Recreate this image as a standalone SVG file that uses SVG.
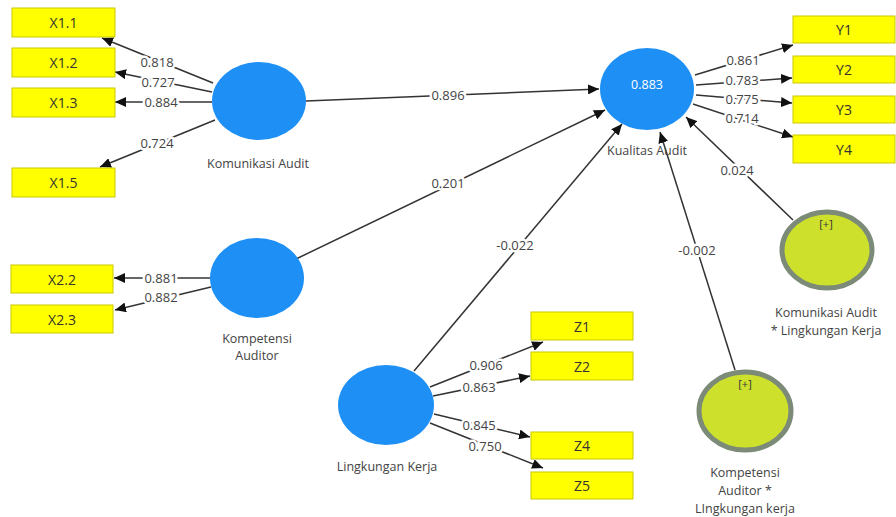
<svg xmlns="http://www.w3.org/2000/svg" width="896" height="517" viewBox="0 0 896 517">
<defs>
<marker id="arr" markerWidth="12" markerHeight="10" refX="11" refY="5" orient="auto" markerUnits="userSpaceOnUse">
<path d="M0,0 L11,5 L0,10 Z" fill="#111"/>
</marker>
<style>
.ind{fill:#ffff00;stroke:#c9c900;stroke-width:1}
.it{font-family:"Open Sans","Noto Sans",sans-serif;font-size:14px;fill:#333;text-anchor:middle;dominant-baseline:central}
.lv{fill:#1e8ff5}
.mod{fill:#cde12c;stroke:#7c8b77;stroke-width:5}
.lbl{font-family:"Open Sans","Noto Sans",sans-serif;font-size:12.5px;fill:#444;text-anchor:middle;dominant-baseline:central}
.c{stroke:#333;stroke-width:1.5;fill:none;marker-end:url(#arr)}
.cl{font-family:"Open Sans","Noto Sans",sans-serif;font-size:13px;fill:#444;text-anchor:middle;dominant-baseline:central;paint-order:stroke;stroke:#fff;stroke-width:5px;stroke-linejoin:round}
.plus{font-family:"Open Sans","Noto Sans",sans-serif;font-size:11px;fill:#333;text-anchor:middle;dominant-baseline:central}
</style>
</defs>
<rect width="896" height="517" fill="#fff"/>
<g id="connectors">
<line class="c" x1="213" y1="83" x2="102" y2="38"/>
<line class="c" x1="212" y1="92" x2="115" y2="72"/>
<line class="c" x1="212" y1="102" x2="115" y2="102"/>
<line class="c" x1="215" y1="120" x2="100" y2="167"/>
<line class="c" x1="210" y1="278" x2="114" y2="278"/>
<line class="c" x1="211" y1="287" x2="115" y2="310"/>
<line class="c" x1="695" y1="75" x2="793" y2="45"/>
<line class="c" x1="696" y1="85" x2="792" y2="78"/>
<line class="c" x1="696" y1="95" x2="792" y2="103"/>
<line class="c" x1="693" y1="104" x2="793" y2="137"/>
<line class="c" x1="430" y1="387" x2="543" y2="342"/>
<line class="c" x1="433" y1="396" x2="530" y2="376"/>
<line class="c" x1="434" y1="414" x2="530" y2="437"/>
<line class="c" x1="430" y1="423" x2="543" y2="468"/>
<line class="c" x1="306" y1="101" x2="599" y2="89"/>
<line class="c" x1="296" y1="259" x2="605" y2="110"/>
<line class="c" x1="414" y1="371" x2="622" y2="124"/>
<line class="c" x1="735" y1="370" x2="660" y2="132"/>
<line class="c" x1="793" y1="220" x2="686" y2="117"/>
<text class="cl" x="157" y="62">0.818</text>
<text class="cl" x="158" y="82">0.727</text>
<text class="cl" x="161" y="102">0.884</text>
<text class="cl" x="157" y="143">0.724</text>
<text class="cl" x="161" y="278">0.881</text>
<text class="cl" x="161" y="297">0.882</text>
<text class="cl" x="743" y="60">0.861</text>
<text class="cl" x="742" y="80">0.783</text>
<text class="cl" x="742" y="99">0.775</text>
<text class="cl" x="742" y="118">0.714</text>
<text class="cl" x="486" y="365">0.906</text>
<text class="cl" x="479" y="387">0.863</text>
<text class="cl" x="479" y="425">0.845</text>
<text class="cl" x="485" y="446">0.750</text>
<text class="cl" x="448" y="95">0.896</text>
<text class="cl" x="448" y="183">0.201</text>
<text class="cl" x="515" y="245">-0.022</text>
<text class="cl" x="697" y="250">-0.002</text>
<text class="cl" x="737" y="170">0.024</text>
</g>
<g id="X1.1"><rect class="ind" x="12" y="8" width="103" height="29"/><text class="it" x="63.5" y="22.5">X1.1</text></g>
<g id="X1.2"><rect class="ind" x="12" y="48" width="103" height="29"/><text class="it" x="63.5" y="62.5">X1.2</text></g>
<g id="X1.3"><rect class="ind" x="12" y="88" width="103" height="29"/><text class="it" x="63.5" y="102.5">X1.3</text></g>
<g id="X1.5"><rect class="ind" x="12" y="168" width="103" height="29"/><text class="it" x="63.5" y="182.5">X1.5</text></g>
<g id="X2.2"><rect class="ind" x="11" y="265" width="102" height="28"/><text class="it" x="62" y="279">X2.2</text></g>
<g id="X2.3"><rect class="ind" x="11" y="305" width="102" height="28"/><text class="it" x="62" y="319">X2.3</text></g>
<g id="Y1"><rect class="ind" x="793" y="16" width="102" height="27"/><text class="it" x="844" y="29.5">Y1</text></g>
<g id="Y2"><rect class="ind" x="793" y="56" width="102" height="27"/><text class="it" x="844" y="69.5">Y2</text></g>
<g id="Y3"><rect class="ind" x="793" y="96" width="102" height="27"/><text class="it" x="844" y="109.5">Y3</text></g>
<g id="Y4"><rect class="ind" x="793" y="135" width="102" height="28"/><text class="it" x="844" y="149">Y4</text></g>
<g id="Z1"><rect class="ind" x="531" y="312" width="102" height="28"/><text class="it" x="582" y="326">Z1</text></g>
<g id="Z2"><rect class="ind" x="531" y="352" width="102" height="28"/><text class="it" x="582" y="366">Z2</text></g>
<g id="Z4"><rect class="ind" x="531" y="432" width="102" height="27"/><text class="it" x="582" y="445.5">Z4</text></g>
<g id="Z5"><rect class="ind" x="531" y="472" width="102" height="27"/><text class="it" x="582" y="485.5">Z5</text></g>
<g id="KomunikasiAudit"><ellipse class="lv" cx="259" cy="101" rx="47" ry="39"/><text class="lbl" x="258" y="163">Komunikasi Audit</text></g>
<g id="KompetensiAuditor"><ellipse class="lv" cx="257" cy="278" rx="47" ry="40"/><text class="lbl" x="257" y="338">Kompetensi</text><text class="lbl" x="257" y="355">Auditor</text></g>
<g id="LingkunganKerja"><ellipse class="lv" cx="386" cy="405" rx="48" ry="40"/><text class="lbl" x="387" y="466">Lingkungan Kerja</text></g>
<g id="KualitasAudit"><ellipse class="lv" cx="647" cy="89" rx="47" ry="41"/><text class="lbl" x="647" y="84" style="fill:#fff">0.883</text><text class="lbl" x="647" y="150">Kualitas Audit</text></g>
<g id="ModKomunikasi"><ellipse class="mod" cx="827" cy="250" rx="45" ry="38"/><text class="plus" x="826" y="223">[+]</text><text class="lbl" x="826" y="312">Komunikasi Audit</text><text class="lbl" x="826" y="330">* Lingkungan Kerja</text></g>
<g id="ModKompetensi"><ellipse class="mod" cx="745" cy="411" rx="46" ry="39"/><text class="plus" x="745" y="383">[+]</text><text class="lbl" x="745" y="472">Kompetensi</text><text class="lbl" x="745" y="490">Auditor *</text><text class="lbl" x="745" y="508">LIngkungan kerja</text></g>
</svg>
